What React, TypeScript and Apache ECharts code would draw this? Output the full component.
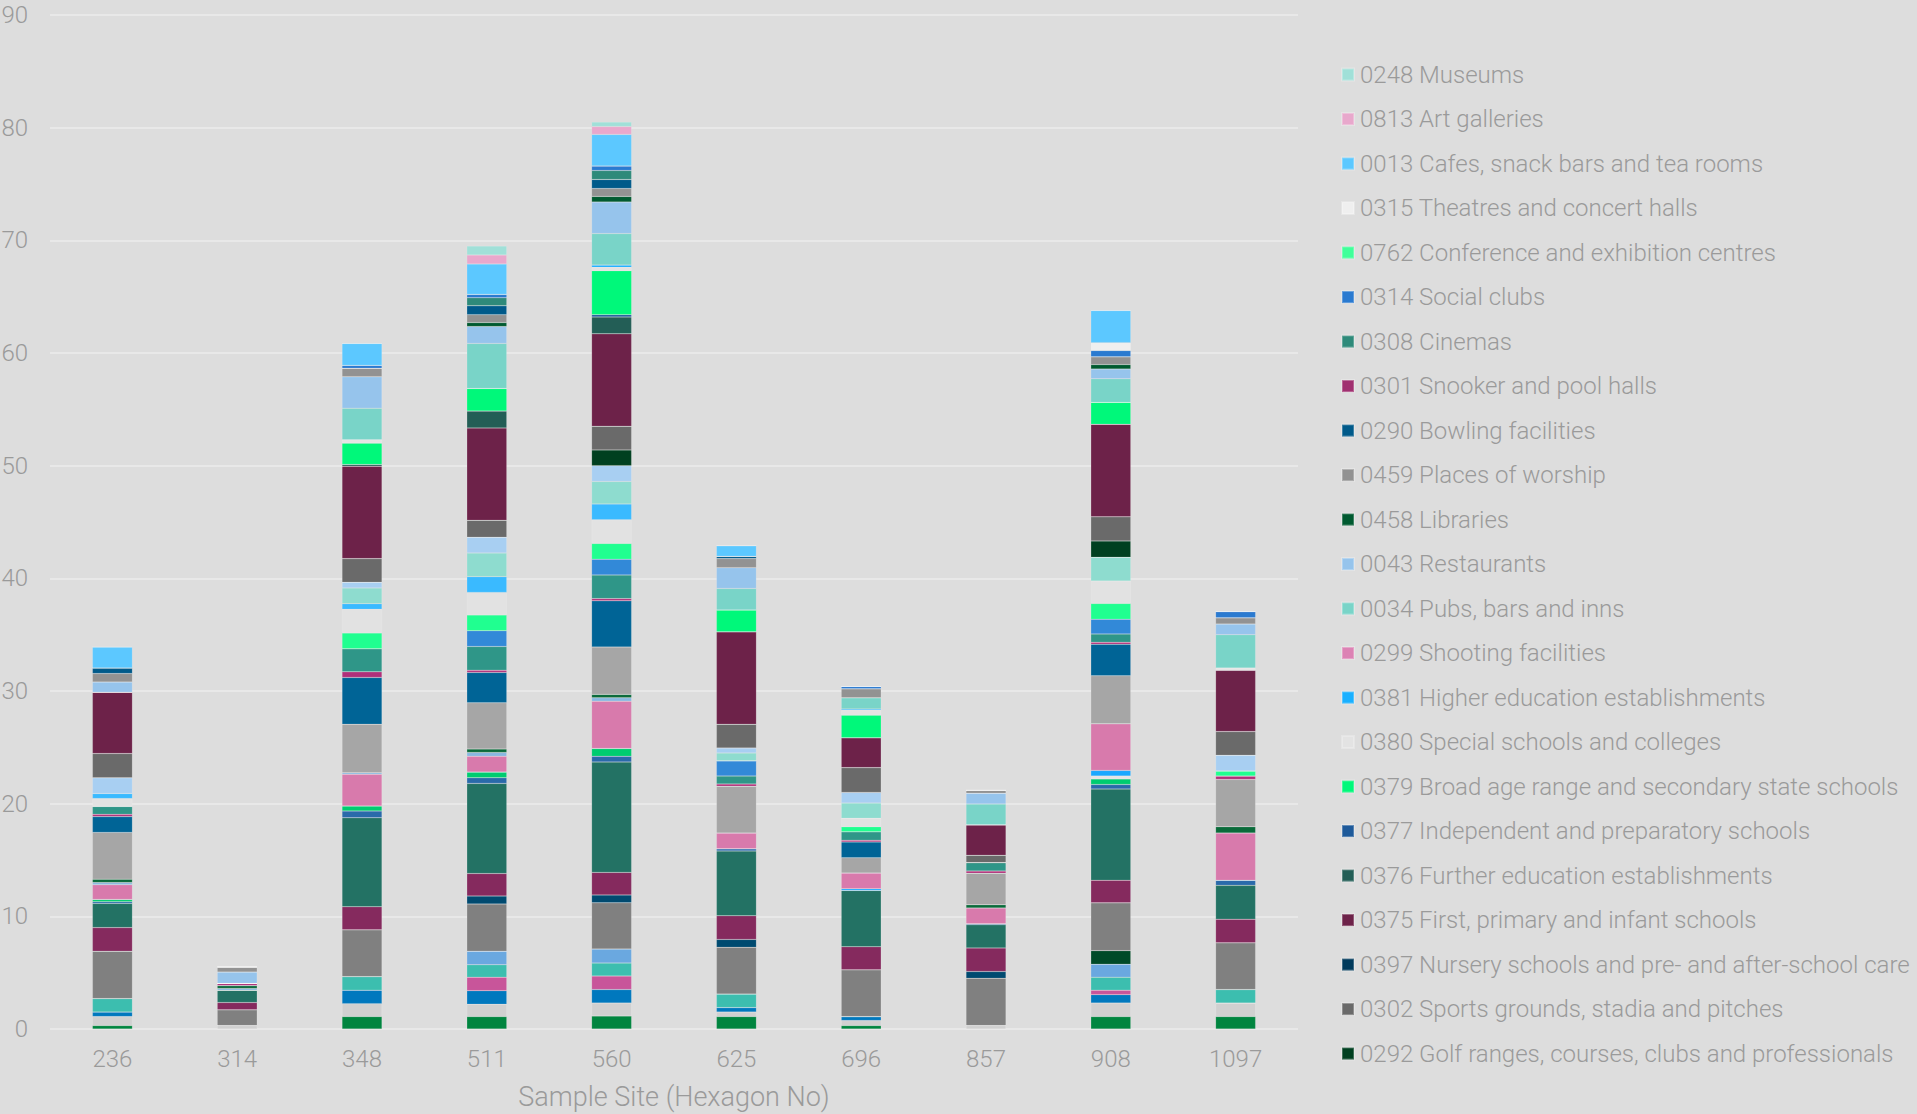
import React, { useEffect, useRef } from "react";
import * as echarts from "echarts";

// Sample sites (x categories)
const sites = ["236", "314", "348", "511", "560", "625", "696", "857", "908", "1097"];

// Stack order: bottom to top. The first 28 are classes whose legend entries are cut off in the source.
const seriesNames = [
  "h01", "h02", "h03", "h04", "h05", "h06", "h06b", "h07", "h08", "h09", "h10", "h11", "h12", "h12w", "h12c",
  "h13", "h14", "h15", "h16", "h17", "h18", "h19", "h20", "h21", "h22", "h23", "h24", "h25",
  "0292 Golf ranges, courses, clubs and professionals",
  "0302 Sports grounds, stadia and pitches",
  "0397 Nursery schools and pre- and after-school care",
  "0375 First, primary and infant schools",
  "0376 Further education establishments",
  "0377 Independent and preparatory schools",
  "0379 Broad age range and secondary state schools",
  "0380 Special schools and colleges",
  "0381 Higher education establishments",
  "0299 Shooting facilities",
  "0034 Pubs, bars and inns",
  "0043 Restaurants",
  "0458 Libraries",
  "0459 Places of worship",
  "0290 Bowling facilities",
  "0301 Snooker and pool halls",
  "0308 Cinemas",
  "0314 Social clubs",
  "0762 Conference and exhibition centres",
  "0315 Theatres and concert halls",
  "0013 Cafes, snack bars and tea rooms",
  "0813 Art galleries",
  "0248 Museums",
];

// Values per series (same order as seriesNames), one per site
const seriesValues: number[][] = [
  [0.3, 0, 1.1, 1.1, 1.15, 1.1, 0.3, 0, 1.1, 1.1],
  [0.8, 0.3, 1.15, 1.1, 1.15, 0.4, 0.45, 0.3, 1.2, 1.2],
  [0.4, 0, 1.2, 1.2, 1.2, 0.4, 0.35, 0, 0.75, 0],
  [0, 0, 0, 1.2, 1.2, 0, 0, 0, 0.4, 0],
  [1.2, 0, 1.2, 1.1, 1.15, 1.2, 0, 0, 1.15, 1.2],
  [0, 0, 0, 1.2, 1.25, 0, 0, 0, 1.15, 0],
  [0, 0, 0, 0, 0, 0, 0, 0, 1.2, 0],
  [4.2, 1.4, 4.15, 4.2, 4.1, 4.15, 4.15, 4.2, 4.25, 4.15],
  [0, 0, 0, 0.7, 0.7, 0.7, 0, 0.6, 0, 0],
  [2.1, 0.65, 2.05, 2.0, 2.0, 2.1, 2.05, 2.1, 2.0, 2.1],
  [2.15, 1.1, 7.9, 8.0, 9.8, 5.75, 5.0, 2.05, 8.1, 3.0],
  [0.15, 0, 0.6, 0.5, 0.5, 0.2, 0, 0.1, 0.4, 0.45],
  [0.2, 0, 0.45, 0.5, 0.7, 0, 0, 0, 0.5, 0],
  [0, 0, 0, 0, 0, 0, 0, 0, 0.25, 0],
  [0, 0, 0, 0, 0, 0, 0.15, 0, 0.5, 0],
  [1.3, 0, 2.8, 1.4, 4.2, 1.4, 1.4, 1.4, 4.15, 4.2],
  [0.2, 0.15, 0.15, 0.35, 0.3, 0, 0, 0, 0, 0],
  [0.3, 0.25, 0, 0.3, 0.3, 0, 0, 0.27, 0, 0.55],
  [4.15, 0, 4.3, 4.1, 4.2, 4.15, 1.35, 2.8, 4.25, 4.2],
  [1.4, 0, 4.15, 2.7, 4.1, 0, 1.4, 0, 2.8, 0],
  [0.2, 0.2, 0.5, 0.2, 0.2, 0.2, 0.15, 0.2, 0.17, 0.3],
  [0.7, 0, 2.05, 2.1, 2.1, 0.7, 0.75, 0.75, 0.75, 0],
  [0, 0, 0, 1.4, 1.4, 1.35, 0, 0, 1.3, 0],
  [0, 0, 1.4, 1.4, 1.4, 0, 0.45, 0, 1.4, 0.45],
  [0.7, 0, 2.1, 2.0, 2.1, 0, 0.75, 0, 2.0, 0],
  [0.45, 0, 0.5, 1.4, 1.4, 0, 0, 0, 0, 0],
  [0, 0, 1.4, 2.1, 2.0, 0.7, 1.35, 0, 2.1, 0],
  [1.4, 0, 0.5, 1.4, 1.4, 0.45, 0.95, 0, 0, 1.4],
  [0, 0, 0, 0, 1.4, 0, 0, 0, 1.45, 0],
  [2.15, 0, 2.1, 1.5, 2.1, 2.1, 2.2, 0.65, 2.15, 2.1],
  [0, 0, 0, 0, 0, 0, 0, 0, 0, 0],
  [5.45, 0, 8.2, 8.2, 8.2, 8.2, 2.65, 2.7, 8.2, 5.45],
  [0, 0, 0.15, 1.5, 1.5, 0, 0, 0, 0, 0],
  [0, 0, 0, 0, 0.2, 0, 0, 0, 0, 0],
  [0, 0, 1.9, 2.0, 3.9, 1.95, 2.0, 0, 1.95, 0],
  [0, 0, 0.3, 0, 0.3, 0, 0.45, 0, 0, 0.2],
  [0, 0, 0, 0, 0.2, 0, 0.1, 0, 0, 0],
  [0, 0, 0, 0, 0, 0, 0, 0, 0, 0],
  [0, 0, 2.8, 4.0, 2.8, 1.9, 1.0, 1.85, 2.1, 2.95],
  [0.9, 1.0, 2.8, 1.5, 2.8, 1.85, 0, 0.95, 0.85, 0.95],
  [0, 0, 0, 0.35, 0.5, 0, 0, 0, 0.4, 0],
  [0.75, 0.45, 0.75, 0.7, 0.7, 0.8, 0.8, 0.27, 0.7, 0.55],
  [0.5, 0, 0, 0.8, 0.8, 0.2, 0, 0, 0, 0],
  [0, 0, 0, 0, 0, 0, 0, 0, 0, 0],
  [0, 0, 0, 0.7, 0.8, 0, 0, 0, 0, 0],
  [0, 0, 0.25, 0.3, 0.4, 0, 0.2, 0, 0.55, 0.55],
  [0, 0, 0, 0, 0, 0, 0, 0, 0, 0],
  [0, 0, 0, 0, 0, 0, 0, 0, 0.7, 0],
  [1.85, 0, 1.95, 2.7, 2.8, 0.95, 0, 0, 2.85, 0],
  [0, 0, 0, 0.8, 0.7, 0, 0, 0, 0, 0],
  [0, 0, 0, 0.8, 0.4, 0, 0, 0, 0, 0],
];

// Styles
const seriesColors = [
  "#00853f", "#d0d0d0", "#0078be", "#c8559a", "#3cbeaf", "#6aa8e0", "#004a28", "#808080", "#004a70",
  "#852a5e", "#237264", "#2a6aaa", "#00cc70", "#e4e4e4", "#1aa8ff", "#d87aac", "#88b8e0", "#0a6a3a",
  "#a6a6a6", "#006496", "#b0307a", "#2f9688", "#3289d8", "#20ff90", "#e2e2e2", "#3abaff", "#8edccf",
  "#a8cff2",
  "#004020", "#6a6a6a", "#003a5c", "#6d2249", "#235e56", "#1e5a9a", "#00f87a", "#e3e3e3", "#1ab0ff",
  "#dc82b4", "#79d4c8", "#96c4ec", "#005a30", "#929292", "#005a8a", "#a03070", "#2e8a7a", "#2a7ad0",
  "#40ff9a", "#efefef", "#5cc8ff", "#e8a8cc", "#a0e0d8",
];

const legendCount = 23;
const FONT = "Roboto";
const TEXT = "#9a9a9a";

export default function App() {
  const ref = useRef<HTMLDivElement>(null);
  useEffect(() => {
    document.body.style.margin = "0";
    document.body.style.background = "#dddddd";
    if (!ref.current) return;
    const chart = echarts.init(ref.current, null, { renderer: "svg" });
    const legendNames = seriesNames.slice(seriesNames.length - legendCount).reverse();
    chart.setOption({
      animation: false,
      backgroundColor: "#dddddd",
      textStyle: { fontFamily: FONT, fontWeight: 300 },
      grid: { left: 50, right: 619, top: 15, bottom: 85, containLabel: false, outerBoundsMode: "none" },
      legend: {
        data: legendNames,
        orient: "vertical",
        left: 1341,
        top: 61.6,
        padding: 0,
        itemWidth: 12,
        itemHeight: 12,
        itemGap: 18.5,
        icon: "rect",
        selectedMode: false,
        textStyle: { color: TEXT, fontSize: 24, fontFamily: FONT, fontWeight: 300, lineHeight: 26, padding: [0, 0, 0, 1] },
      },
      xAxis: {
        type: "category",
        data: sites,
        name: "Sample Site (Hexagon No)",
        nameLocation: "middle",
        nameGap: 54,
        nameTextStyle: { color: TEXT, fontSize: 27, fontFamily: FONT, fontWeight: 300 },
        axisLine: { show: false },
        axisTick: { show: false },
        axisLabel: { color: TEXT, fontSize: 24, fontFamily: FONT, fontWeight: 300, margin: 18 },
      },
      yAxis: {
        type: "value",
        min: 0,
        max: 90,
        interval: 10,
        axisLine: { show: false },
        axisTick: { show: false },
        axisLabel: { color: TEXT, fontSize: 24, fontFamily: FONT, fontWeight: 300, margin: 22 },
        splitLine: { lineStyle: { color: "#e8e8e8", width: 2 } },
      },
      series: seriesNames.map((name, i) => ({
        name,
        type: "bar",
        stack: "total",
        barWidth: 40,
        data: seriesValues[i],
        itemStyle: { color: seriesColors[i], borderColor: "rgba(255,255,255,0.25)", borderWidth: 0.5 },
        emphasis: { disabled: true },
      })),
    });
    return () => chart.dispose();
  }, []);
  return <div ref={ref} style={{ width: 1917, height: 1114 }} />;
}
